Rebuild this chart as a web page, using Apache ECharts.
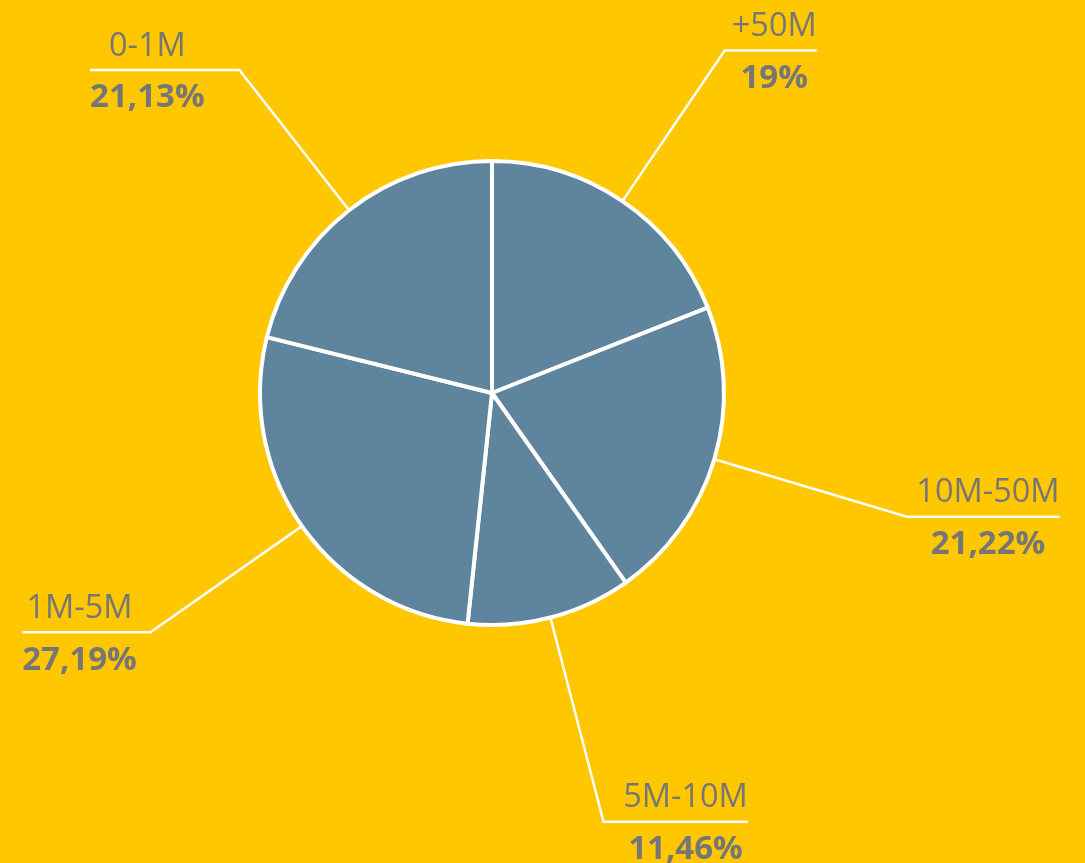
<!DOCTYPE html>
<html>
<head>
<meta charset="utf-8">
<script src="https://cdn.jsdelivr.net/npm/echarts@6/dist/echarts.min.js"></script>
<style>
html,body{margin:0;padding:0;background:#FFC700;}
#chart{width:1085px;height:863px;}
</style>
</head>
<body>
<div id="chart"></div>
<script>
// Data (clockwise from 12 o'clock)
const categories = ['+50M', '10M-50M', '5M-10M', '1M-5M', '0-1M'];
const shares = [19, 21.22, 11.46, 27.19, 21.13];

// Label presentation per slice (line length, label box width, padding)
const lineLengths = [182, 201, 211, 185, 178];
const labelWidths = [99, 162, 144, 118, 170];
const labelPads = [[0,0,0,0],[0,0,0,0],[0,0,0,10],[0,12,0,0],[0,7,0,0]];

const chart = echarts.init(document.getElementById('chart'));

const fmt = v => String(v).replace('.', ',') + '%';

const data = categories.map((name, i) => ({
  name: name,
  value: shares[i],
  labelLine: { length: lineLengths[i], length2: 0 },
  label: { width: labelWidths[i], padding: labelPads[i] }
}));

chart.setOption({
  backgroundColor: '#FFC700',
  animation: false,
  series: [{
    type: 'pie',
    center: [492, 393],
    radius: 232,
    startAngle: 90,
    clockwise: true,
    avoidLabelOverlap: false,
    color: ['#5F849D'],
    itemStyle: { borderColor: '#ffffff', borderWidth: 4 },
    label: {
      show: true,
      position: 'outside',
      distanceToLabelLine: 0,
      overflow: 'none',
      formatter: p => '{n|' + p.name + '}\n{v|' + fmt(p.value) + '}',
      rich: {
        n: { fontFamily: 'Open Sans', fontSize: 32.5, color: '#767676', lineHeight: 56, align: 'center' },
        v: { fontFamily: 'Open Sans', fontSize: 33, fontWeight: 'bold', color: '#767676', lineHeight: 47, align: 'center' }
      }
    },
    labelLine: {
      show: true,
      smooth: false,
      lineStyle: { color: '#ffffff', width: 2.5 }
    },
    labelLayout: function (params) {
      const pts = params.labelLinePoints;
      if (!pts) return {};
      const r = params.labelRect;
      const isLeft = r.x + r.width / 2 < pts[1][0];
      pts[2][0] = isLeft ? r.x : r.x + r.width;
      return { labelLinePoints: pts };
    },
    data: data
  }]
});
</script>
</body>
</html>
